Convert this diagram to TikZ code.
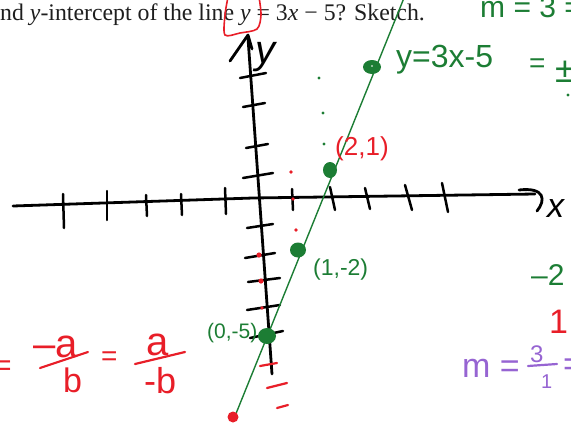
\documentclass[tikz,border=0pt]{standalone}
\usepackage{fontspec}
\setmainfont{Liberation Serif}
\newfontfamily\hand{Liberation Sans}
\newcommand\fsz[1]{\fontsize{#1}{#1}\selectfont}
\definecolor{pgreen}{RGB}{28,125,52}
\definecolor{pred}{RGB}{232,30,40}
\definecolor{ppurple}{RGB}{150,100,210}
\definecolor{ptext}{RGB}{30,30,30}
\begin{document}
\begin{tikzpicture}[x=1pt,y=-1pt,
  ax/.style={line width=2.8pt,line cap=round,line join=round,black},
  tk/.style={line width=2.5pt,line cap=round,black},
  lbl/.style={inner sep=0pt,anchor=base west,font=\hand},
  gdot/.style={fill=pgreen},
  rdot/.style={fill=pred},
  redpen/.style={pred,line width=2.2pt,line cap=round},
  purpen/.style={ppurple,line width=2.2pt,line cap=round}]
\useasboundingbox (0,0) rectangle (571,424);
\clip (0,0) rectangle (571,424);
% title text
\node[inner sep=0pt,anchor=base west,text=ptext,font=\fsz{23.8}] (title) at (0,20)
  {nd \textit{y}-intercept of the line \textit{y} = 3\textit{x} − 5? Sketch.};
% red loop round y
\draw[pred,line width=1.6pt] plot[smooth] coordinates {(228,-3) (225,15) (225,35) (240,33) (257,29) (261,15) (259,-3)};
% x axis
\draw[ax] (13,206) -- (253,198) -- (535,194);
\draw[ax] (519,190) .. controls (545,187) and (546,200) .. (537,211);
\node[lbl,font=\hand\itshape\fsz{34}] (xl) at (547,217) {x};
% y axis
\draw[ax] (248,38) -- (272,374);
\draw[ax] (230,61) -- (248,35) -- (252,49);
\node[lbl,font=\hand\itshape\fsz{40}] (yl) at (255,63) {y};
% x ticks
\foreach \a/\b/\c/\d in {63/194/64/228, 107/191/107/220, 146/195/147/216, 181/194/182/215, 225/188/226/214,
  292/189/293/210, 330/187/335/210, 365/188/370/209, 405/185/412/210, 442/183/448/212}
  \draw[tk] (\a,\b) -- (\c,\d);
% y ticks
\foreach \a/\b/\c/\d in {240/78/266/73, 243/107/265/103, 246/148/268/144, 243/178/273/173,
  247/228/273/224, 245/258/275/253, 248/282/280/278, 247/310/280/305, 250/338/283/331}
  \draw[tk] (\a,\b) -- (\c,\d);
% green line
\coordinate (gA) at (233,421);
\coordinate (gB) at (404,-2);
\draw[pgreen,line width=1.4pt] (gA) -- (gB);
% green points
\fill[gdot] (372,67) ellipse (9 and 7);
\fill[gdot] (330,170) ellipse (7 and 8);
\fill[gdot] (298,250) ellipse (8 and 7.5);
\fill[gdot] (267,336) ellipse (9 and 8);
\fill[white] (372,66) circle (0.8);
\fill[rdot] (233,417) circle (5.5);
% small dots
\foreach \p in {(319,78),(323,113),(324,144)} \fill[gdot] \p circle (1.6);
\foreach \p in {(291,172),(293,199),(296,230),(262,308)} \fill[rdot] \p circle (1.8);
\foreach \p in {(259,255),(261,281)} \fill[rdot] \p circle (2.6);
% red dashes below
\draw[redpen] (260,366) -- (277,363);
\draw[redpen] (267,388) -- (287,383);
\draw[redpen] (277,408) -- (288,405);
% labels
\node[lbl,text=pgreen,font=\hand\fsz{32}] (eq) at (396,67) {y=3x-5};
\node[lbl,text=pred,font=\hand\fsz{26}] (p21) at (335,155) {(2,1)};
\node[lbl,text=pgreen,font=\hand\fsz{23}] (p12) at (313,275) {(1,-2)};
\node[lbl,text=pgreen,font=\hand\fsz{21}] (p05) at (207,338) {(0,-5)};
% right side notes
\node[lbl,text=pgreen,font=\hand\fsz{30}] (m3) at (480,17) {m = 3 =};
\node[lbl,text=pgreen,font=\hand\fsz{28}] (eqpm) at (529,72) {=};
\node[lbl,text=pgreen,font=\hand\fsz{36}] (pm) at (555,82) {±};
\fill[gdot] (568,95) circle (1.6);
\node[lbl,text=pgreen,font=\hand\fsz{30}] (m2) at (531,285) {–2};
\node[lbl,text=pred,font=\hand\fsz{34}] (one) at (549,333) {1};
\node[lbl,text=ppurple,font=\hand\fsz{34}] (pm1) at (462,377) {m =};
\node[lbl,text=ppurple,font=\hand\fsz{24}] (pn3) at (530,362) {3};
\draw[purpen] (528,366) -- (557,364);
\node[lbl,text=ppurple,font=\hand\fsz{20}] (pd1) at (541,388) {1};
\node[lbl,text=ppurple,font=\hand\fsz{34}] (peq) at (563,375) {=};
% red fractions bottom left
\node[lbl,text=pred,font=\hand\fsz{30}] (req1) at (-6,375) {=};
\node[lbl,text=pred,font=\hand\fsz{40}] (rn1) at (33,357) {–a};
\draw[redpen] (40,368) -- (88,352);
\node[lbl,text=pred,font=\hand\fsz{34}] (rd1) at (63,392) {b};
\node[lbl,text=pred,font=\hand\fsz{28}] (req2) at (101,365) {=};
\node[lbl,text=pred,font=\hand\fsz{40}] (rn2) at (146,355) {a};
\draw[redpen] (135,364) -- (185,352);
\node[lbl,text=pred,font=\hand\fsz{36}] (rd2) at (144,393) {-b};
\end{tikzpicture}
\end{document}
